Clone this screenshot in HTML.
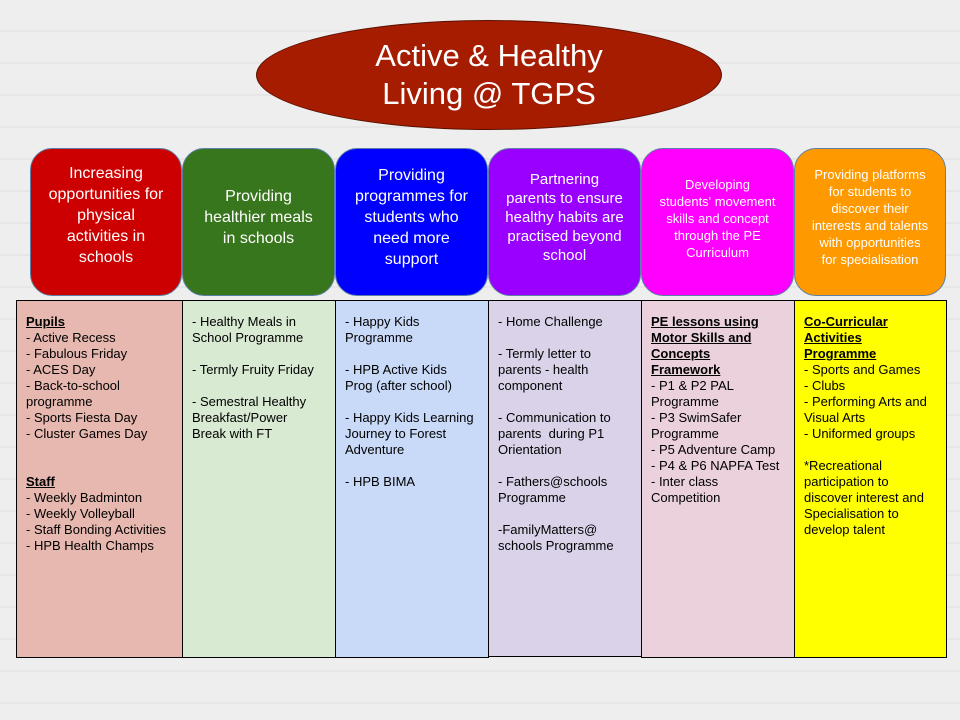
<!DOCTYPE html>
<html><head><meta charset="utf-8"><style>
body{margin:0;width:960px;height:720px;overflow:hidden;font-family:"Liberation Sans",sans-serif;position:relative;
background:repeating-linear-gradient(180deg,#eeeeee 0 30px,#e6e6e6 30px 32px),#ededed;}
.h{position:absolute;top:148px;height:148px;border-radius:22px;border:1px solid #5b7fa6;box-sizing:border-box;color:#fff;display:flex;align-items:center;justify-content:center;text-align:center;font-size:16px;line-height:21px;white-space:nowrap;padding-bottom:10px}
.h.s{font-size:13px;line-height:17px;padding-bottom:8px}
.c{position:absolute;top:300px;height:358px;border:1px solid #000;box-sizing:border-box;font-size:13px;line-height:16px;color:#000;padding:13px 0 0 9px;white-space:nowrap}
.c b{text-decoration:underline}
</style></head><body>
<div style="position:absolute;left:256px;top:20px;width:466px;height:110px;border-radius:50%;background:#a61c00;border:1px solid #5a1000;box-sizing:border-box;color:#fff;font-size:31px;line-height:38px;text-align:center;display:flex;align-items:center;justify-content:center">Active &amp; Healthy<br>Living @ TGPS</div>

<div class="h" style="left:30px;width:152px;background:#cc0000;padding-bottom:14px">Increasing<br>opportunities for<br>physical<br>activities in<br>schools</div>
<div class="h" style="left:182px;width:153px;background:#38761d">Providing<br>healthier meals<br>in schools</div>
<div class="h" style="left:335px;width:153px;background:#0000ff">Providing<br>programmes for<br>students who<br>need more<br>support</div>
<div class="h" style="left:488px;width:153px;background:#9900ff;font-size:15px;line-height:19px">Partnering<br>parents to ensure<br>healthy habits are<br>practised beyond<br>school</div>
<div class="h s" style="left:641px;width:153px;background:#ff00ff">Developing<br>students' movement<br>skills and concept<br>through the PE<br>Curriculum</div>
<div class="h s" style="left:794px;width:152px;background:#ff9900;padding-bottom:11px">Providing platforms<br>for students to<br>discover their<br>interests and talents<br>with opportunities<br>for specialisation</div>

<div class="c" style="left:16px;width:167px;background:#e6b8af"><b>Pupils</b><br>- Active Recess<br>- Fabulous Friday<br>- ACES Day<br>- Back-to-school<br>programme<br>- Sports Fiesta Day<br>- Cluster Games Day<br><br><br><b>Staff</b><br>- Weekly Badminton<br>- Weekly Volleyball<br>- Staff Bonding Activities<br>- HPB Health Champs</div>
<div class="c" style="left:182px;width:154px;background:#d9ead3">- Healthy Meals in<br>School Programme<br><br>- Termly Fruity Friday<br><br>- Semestral Healthy<br>Breakfast/Power<br>Break with FT</div>
<div class="c" style="left:335px;width:154px;background:#c9daf8">- Happy Kids<br>Programme<br><br>- HPB Active Kids<br>Prog (after school)<br><br>- Happy Kids Learning<br>Journey to Forest<br>Adventure<br><br>- HPB BIMA</div>
<div class="c" style="left:488px;width:154px;height:357px;background:#d9d2e9">- Home Challenge<br><br>- Termly letter to<br>parents - health<br>component<br><br>- Communication to<br>parents &nbsp;during P1<br>Orientation<br><br>- Fathers@schools<br>Programme<br><br>-FamilyMatters@<br>schools Programme</div>
<div class="c" style="left:641px;width:154px;background:#ead1dc"><b>PE lessons using<br>Motor Skills and<br>Concepts<br>Framework</b><br>- P1 &amp; P2 PAL<br>Programme<br>- P3 SwimSafer<br>Programme<br>- P5 Adventure Camp<br>- P4 &amp; P6 NAPFA Test<br>- Inter class<br>Competition</div>
<div class="c" style="left:794px;width:153px;background:#ffff00"><b>Co-Curricular<br>Activities<br>Programme</b><br>- Sports and Games<br>- Clubs<br>- Performing Arts and<br>Visual Arts<br>- Uniformed groups<br><br>*Recreational<br>participation to<br>discover interest and<br>Specialisation to<br>develop talent</div>
</body></html>
